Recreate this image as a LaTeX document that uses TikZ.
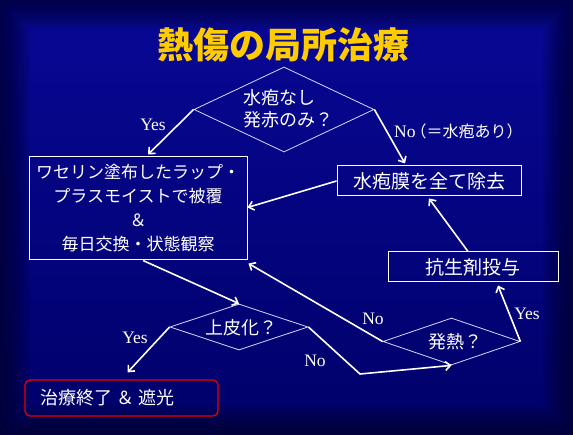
\documentclass[tikz,border=0pt]{standalone}
\usepackage{fontspec}
\setmainfont{Liberation Serif}
\newfontfamily\jp{Noto Sans CJK JP}
\usetikzlibrary{shapes.geometric,arrows.meta,calc}
\definecolor{bgtop}{RGB}{8,8,150}
\definecolor{bgbot}{RGB}{0,0,105}
\definecolor{bgedge}{RGB}{0,0,40}
\definecolor{gold}{RGB}{255,204,0}
\definecolor{dline}{RGB}{215,215,255}
\definecolor{redline}{RGB}{235,0,0}
\begin{document}
\begin{tikzpicture}[x=1pt,y=-1pt,
  dia/.style={diamond, draw=dline, line width=0.8pt, inner sep=0pt},
  box/.style={draw=white, line width=1pt, inner sep=0pt},
  jtext/.style={text=white, font=\jp\fontsize{18}{22}\selectfont, inner sep=0pt},
  lab/.style={text=white, font=\fontsize{17.5}{20}\selectfont, inner sep=0pt},
  conn/.style={draw=white, line width=1.6pt, -{Straight Barb[length=5pt,width=9pt]}},
]
\useasboundingbox (0,0) rectangle (573,435);
\shade[top color=bgtop, bottom color=bgbot] (0,0) rectangle (573,435);
\foreach \i in {1,...,10} {
  \draw[bgedge, line width=6*\i pt, opacity=0.1] (0,0) rectangle (573,435);
}
% title
\node[text=gold, font=\jp\bfseries\fontsize{36}{40}\selectfont, inner sep=0pt] (title) at (283,45) {熱傷の局所治療};
% diamonds
\node[dia, minimum width=180pt, minimum height=85pt] (d1) at (284,109.5) {};
\node[jtext, align=left, anchor=west] (t1) at (243,109) {水疱なし\\発赤のみ？};
\node[dia, minimum width=138pt, minimum height=46pt] (d2) at (239,327) {};
\node[jtext] (t2) at (241,328) {上皮化？};
\node[dia, minimum width=137pt, minimum height=47pt] (d3) at (451.5,341.5) {};
\node[jtext] (t3) at (455,342) {発熱？};
% boxes
\node[box, minimum width=218pt, minimum height=103pt, align=center, text=white,
  font=\jp\fontsize{17}{24}\selectfont] (big) at (138,208.5)
  {ワセリン塗布したラップ・\\プラスモイストで被覆\\＆\\毎日交換・状態観察};
\node[box, minimum width=184pt, minimum height=30pt, text=white,
  font=\jp\fontsize{19}{22}\selectfont] (wash) at (429,181) {水疱膜を全て除去};
\node[box, minimum width=170pt, minimum height=30pt, text=white,
  font=\jp\fontsize{19}{22}\selectfont] (anti) at (473,267) {抗生剤投与};
\node[draw=redline, line width=1.2pt, rounded corners=5pt, minimum width=193pt,
  minimum height=36pt, inner sep=0pt] (endb) at (121.5,398) {};
\node[jtext, anchor=west] (endt) at (40,398) {治療終了 ＆ 遮光};
% connectors
\coordinate (k1) at (360,374);
\draw[conn] (d1.west) -- ([xshift=10pt,yshift=2pt]big.north);
\draw[conn] (d1.east) -- ([xshift=-24pt,yshift=2pt]wash.north);
\draw[conn] (wash.west) -- ([yshift=1pt]big.east);
\draw[conn] ([xshift=-5pt]anti.north) -- ([yshift=-2pt]wash.south);
\draw[conn] ([xshift=5pt]big.south) -- (d2.north);
\draw[conn] (d2.west) -- ([xshift=6pt,yshift=7pt]endb.north);
\draw[conn] (d2.east) -- (k1) -- (d3.south);
\draw[conn] (d3.west) -- ([xshift=1pt,yshift=-3pt]big.south east);
\draw[conn] (d3.east) -- ([xshift=25pt,yshift=-3pt]anti.south);
% labels
\node[lab] (y1) at (153,125) {Yes};
\node[lab, anchor=west] (n1) at (394,131) {No\hspace{-5pt}{\jp\fontsize{16}{18}\selectfont（＝水疱あり）}};
\node[lab] (y2) at (135,338) {Yes};
\node[lab] (n2) at (315,361) {No};
\node[lab] (n3) at (373,319) {No};
\node[lab] (y3) at (527,314) {Yes};
\end{tikzpicture}
\end{document}
